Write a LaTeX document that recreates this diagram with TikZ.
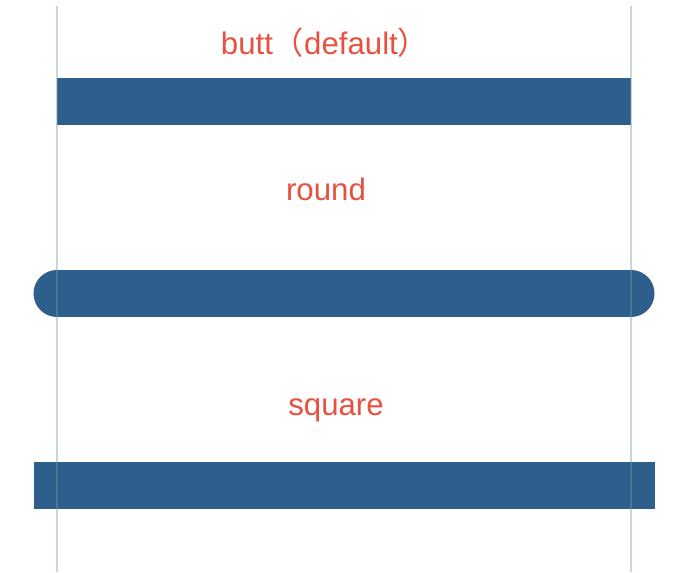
\documentclass[tikz,border=0pt]{standalone}
\usepackage{fontspec}
\setmainfont{Liberation Sans}
\newfontfamily\cjk{Noto Sans CJK SC}
\usetikzlibrary{positioning}
\definecolor{barblue}{RGB}{45,94,140}
\definecolor{labelred}{RGB}{232,80,64}
\definecolor{guidegray}{RGB}{196,214,224}
\tikzset{
    guide/.style={draw=guidegray, line width=1pt},
    guideover/.style={draw=guidegray, line width=1pt, opacity=0.2},
    capbar/.style={draw=barblue, line width=23.5pt},
    caplabel/.style={text=labelred, font=\fontsize{15.6}{18}\selectfont, inner sep=0pt, anchor=base},
}

\begin{document}
\begin{tikzpicture}[x=0.5pt, y=-0.5pt]
    \useasboundingbox (0,0) rectangle (678,572);

    % guide lines
    \coordinate (lefttop) at (57,6);
    \coordinate (leftbot) at (57,572);
    \coordinate (righttop) at (631,6);
    \coordinate (rightbot) at (631,572);
    \draw[guide] (lefttop) -- (leftbot);
    \draw[guide] (righttop) -- (rightbot);

    % butt
    \node[caplabel] (buttlabel) at (325,55) {butt{\cjk （}default{\cjk ）}};
    \coordinate (buttL) at (57,101.5);
    \coordinate (buttR) at (631,101.5);
    \draw[capbar, line cap=butt] (buttL) -- (buttR);

    % round
    \node[caplabel] (roundlabel) at (326,200) {round};
    \coordinate (roundL) at (57,293.5);
    \coordinate (roundR) at (631,293.5);
    \draw[capbar, line cap=round] (roundL) -- (roundR);

    % square
    \node[caplabel] (squarelabel) at (336,415) {square};
    \coordinate (squareL) at (57,485.5);
    \coordinate (squareR) at (631,485.5);
    \draw[capbar, line cap=rect] (squareL) -- (squareR);

    % guides seen through the bars
    \draw[guideover] (lefttop) -- (leftbot);
    \draw[guideover] (righttop) -- (rightbot);
\end{tikzpicture}
\end{document}
